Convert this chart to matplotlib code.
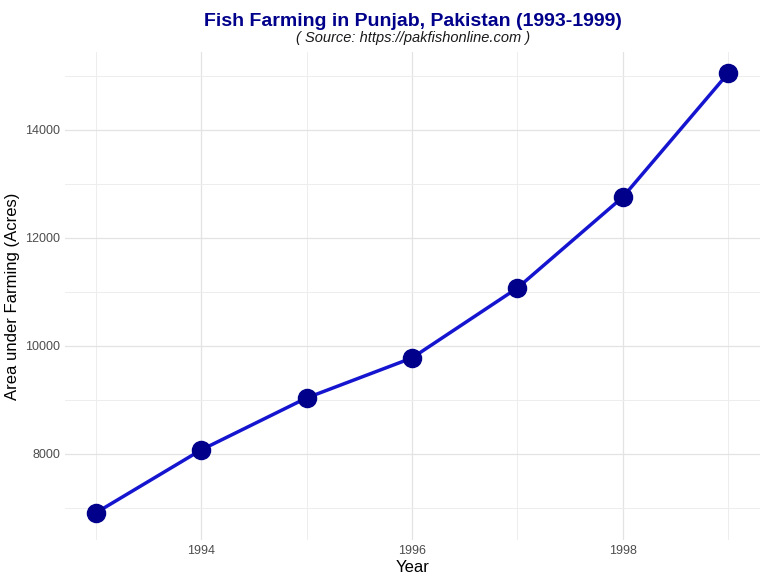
import matplotlib
matplotlib.use("Agg")
import matplotlib.pyplot as plt

plt.rcParams["font.family"] = "Liberation Sans"

years = [1993, 1994, 1995, 1996, 1997, 1998, 1999]
area = [6907, 8074, 9037, 9778, 11074, 12759, 15055]
xticks = [1994, 1996, 1998]
yticks = [8000, 10000, 12000, 14000]

fig = plt.figure(figsize=(7.68, 5.76), dpi=100)
ax = fig.add_axes([65/768, 1-540/576, 695/768, 488/576])
ax.plot(years, area, color="#1515d0", lw=2.5, zorder=2)
ax.scatter(years, area, s=170, color="#00008b", zorder=3)
ax.set_xlim(1992.71, 1999.30)
ax.set_ylim(6407, 15444)
ax.set_xticks(xticks)
ax.set_yticks(yticks)
ax.set_xticks([1993, 1995, 1997, 1999], minor=True)
ax.set_yticks([7000, 9000, 11000, 13000, 15000], minor=True)
ax.grid(True, which="major", color="#e3e3e3", lw=0.9)
ax.grid(True, which="minor", color="#ededed", lw=0.7)
for s in ax.spines.values():
    s.set_visible(False)
ax.tick_params(which="both", length=0, labelsize=9, labelcolor="#4d4d4d")
ax.set_xlabel("Year", fontsize=12, labelpad=2)
ax.set_ylabel("Area under Farming (Acres)", fontsize=12, labelpad=4)
fig.text(413/768, 1-21/576, "Fish Farming in Punjab, Pakistan (1993-1999)", ha="center", va="center",
         fontsize=14, fontweight="bold", color="#00008b")
fig.text(413/768, 1-38/576, "( Source: https://pakfishonline.com )", ha="center", va="center",
         fontsize=10.5, style="italic", color="#1a1a1a")
fig.savefig("out.png", dpi=100, facecolor="white")
